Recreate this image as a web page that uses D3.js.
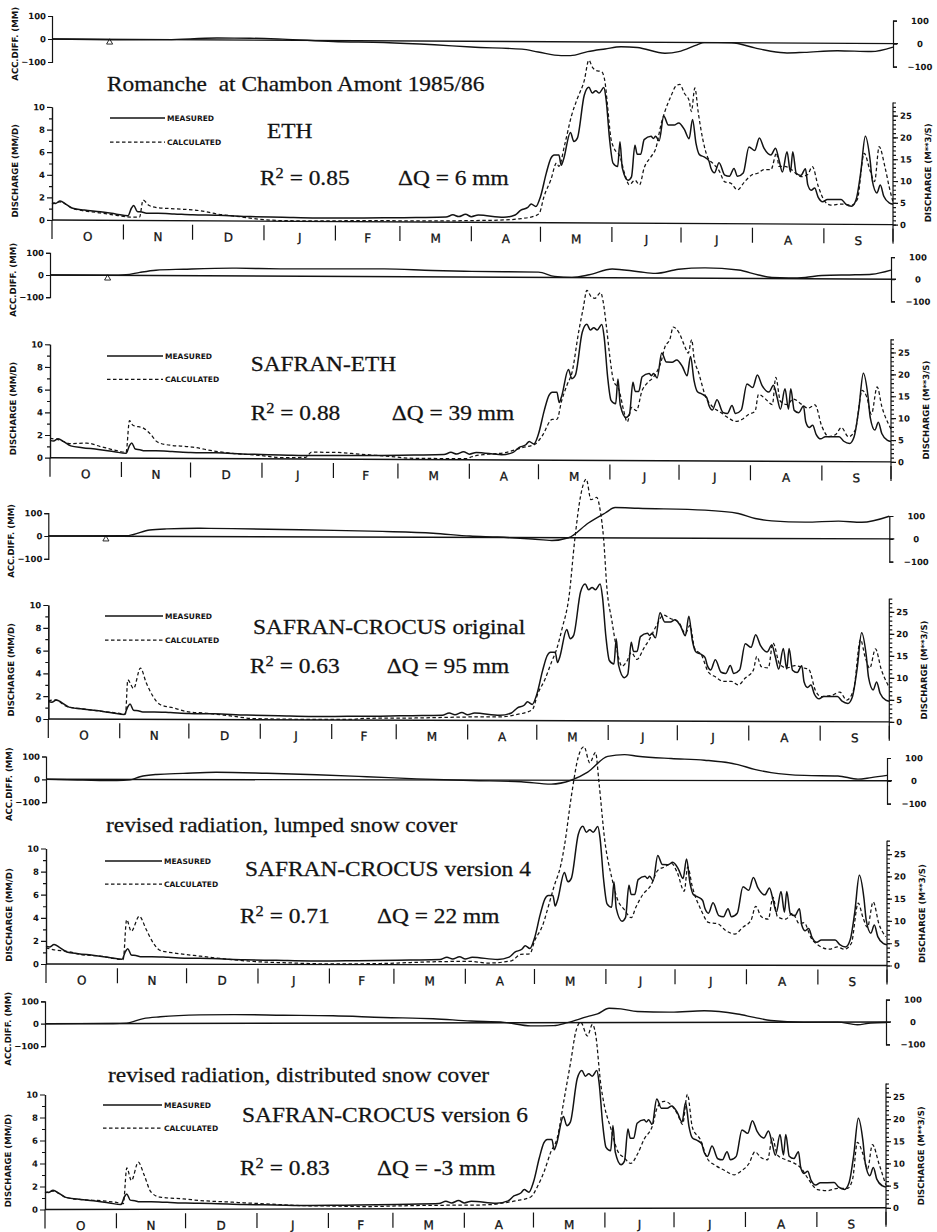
<!DOCTYPE html>
<html>
<head>
<meta charset="utf-8">
<script src="https://cdnjs.cloudflare.com/ajax/libs/d3/7.8.5/d3.min.js"></script>
<style>
  body { margin: 0; background: #fff; }
  svg { display: block; }
</style>
</head>
<body>
<div id="chart"></div>
<script>
// hydrological year Oct 1985 - Sep 1986, day 0 = 1 October
var months = ["O", "N", "D", "J", "F", "M", "A", "M", "J", "J", "A", "S"]
var monthStart = [0, 31, 61, 92, 123, 151, 182, 212, 243, 273, 304, 335, 365]

// measured discharge (mm/d), same in every panel : [day, value]
var measured = [[0,1.53],[1.5,1.47],[3.5,1.68],[6,1.42],[9,1.05],[14,0.9],[21,0.75],[28,0.55],[33,0.42],[34.5,1.1],[35.5,1.33],[37,0.8],[39,0.75],[41,0.65],[46,0.65],[53,0.6],[61,0.53],[72,0.5],[86,0.4],[100,0.35],[115,0.3],[130,0.32],[144,0.35],[158,0.4],[171,0.45],[174,0.65],[176.5,0.5],[179.5,0.7],[182,0.5],[185,0.65],[196,0.46],[201,0.67],[203.5,1.1],[206.5,1.35],[208,1.65],[210,1.42],[212,2.3],[214.5,4.37],[216.5,5.7],[218,6.0],[220,6.0],[221,5.1],[222,5.6],[225,8.0],[226.5,7.2],[228,7.5],[231,11.3],[233,12.0],[234.5,11.5],[236,11.7],[237.5,11.5],[239.5,12.0],[240.5,10.9],[242,7.4],[243.5,5.3],[245.5,5.0],[246.5,7.2],[247.5,4.9],[250,3.8],[251.5,4.1],[253,6.9],[254,6.1],[255.5,6.1],[257,7.4],[260,7.7],[261,7.5],[262,7.7],[263.5,7.3],[265.5,9.5],[267.5,8.7],[270,8.7],[272,8.9],[274.5,8.3],[276.5,7.5],[278,9.2],[279.5,7.1],[281,6.1],[283,5.9],[285,5.6],[286,4.9],[287.5,4.5],[289.5,5.4],[292,4.3],[294,4.2],[296,4.9],[297.5,4.2],[300,4.5],[302.5,6.8],[305,6.5],[307,7.6],[309,6.7],[312,6.1],[314,6.7],[315.5,5.7],[317,4.6],[319,6.4],[320.5,4.6],[321.5,6.4],[323,4.5],[325,4.3],[327,4.9],[328,3.5],[329.5,3.0],[331,3.2],[332.5,2.4],[334.5,2.0],[336.5,2.2],[339.5,2.2],[342.5,2.2],[344.5,1.8],[347,1.6],[349,2.2],[351,4.6],[353,7.8],[355,5.8],[356,3.9],[358,2.8],[359.5,3.5],[361,2.5],[363.5,1.9],[365,1.8]]

// calculated discharge (mm/d) per model run
var calcETH = [[0,1.4],[3.5,1.6],[9,1.03],[21,0.65],[28,0.45],[34,0.3],[38,0.3],[39.5,1.8],[42,1.35],[45.5,1.15],[53,1.05],[64,0.9],[72,0.6],[82,0.37],[90,0.17],[102,0.05],[115,0.05],[137,0.1],[165,0.1],[181.5,0.15],[196,0.22],[203.5,0.35],[209.5,0.59],[211.5,0.83],[213.5,2.3],[216.5,3.8],[219,5.3],[220,5.0],[222.5,6.9],[225.5,9.5],[228,11.0],[231,12.6],[233,14.4],[234.5,13.8],[236,13.5],[238.5,13.4],[240,12.5],[241,10.6],[242.5,7.6],[244,6.6],[246.5,5.9],[248.5,4.4],[250.5,3.4],[253,3.8],[255,3.4],[257,4.9],[260,5.9],[262,6.6],[264.5,8.9],[266,9.9],[268.5,11.2],[271,12.2],[272.5,12.3],[274.5,11.5],[276.5,10.9],[277.5,9.9],[279,12.0],[280.5,9.8],[282.5,7.4],[284.5,5.9],[287,5.3],[289.5,4.7],[292,3.7],[294.5,3.6],[297.5,3.0],[300.5,3.7],[303.5,4.3],[306.5,4.5],[309,4.8],[312,4.8],[314.5,6.3],[315.5,5.1],[318,5.1],[321,4.8],[325,4.2],[328,4.4],[330,5.1],[332.5,3.4],[335.5,2.0],[338,1.7],[342.5,1.8],[347,1.7],[349.5,2.2],[352.5,6.3],[355,4.8],[357,3.8],[359,6.9],[361.5,5.1],[363.5,3.2],[365,2.0]]

var calcSafranETH = [[0,1.7],[3.5,1.6],[9,1.25],[16,1.3],[22,1.0],[29,0.65],[33,0.5],[34.5,3.3],[36,2.9],[40.5,2.65],[43.5,2.15],[46.5,1.45],[50.5,1.2],[62,1.0],[72,0.63],[80,0.45],[91,0.3],[101,0.1],[111,0.15],[113.5,0.6],[123,0.6],[134.5,0.45],[145,0.3],[159,0.1],[181,0.1],[183,0.27],[190,0.5],[197.5,0.65],[205,1.1],[210.5,1.4],[213.5,2.1],[218,3.6],[220,3.6],[222,5.2],[224.5,6.7],[226.5,7.7],[229.5,11.4],[231.5,13.5],[233,15.0],[235,14.4],[236.5,14.3],[239,14.8],[240,14.1],[241.5,11.8],[243,9.1],[244.5,7.1],[247,6.2],[249,4.4],[250.5,3.4],[252.5,4.7],[254.5,4.4],[257,6.2],[259,6.8],[262,7.4],[265,8.6],[267,10.1],[269,10.7],[270.5,11.8],[273,11.3],[275.5,10.1],[277,9.5],[278.5,10.7],[279.5,9.1],[281.5,7.8],[284.5,5.7],[287.5,4.8],[291,4.3],[294.5,3.8],[297.5,3.5],[300.5,3.7],[303,4.1],[306,4.4],[307.5,5.9],[310.5,5.5],[313.5,5.0],[315,7.4],[317,5.3],[320,5.0],[322.5,5.5],[326.5,5.0],[329,4.7],[332,5.0],[335,3.1],[338,2.2],[341,2.4],[343.5,3.0],[346.5,2.2],[349.5,2.8],[352.5,6.3],[354.5,5.7],[356.5,4.2],[359,6.6],[361,4.9],[364,3.3],[365,2.9]]

var calcCrocusOrig = [[0,1.6],[3,1.67],[8,1.1],[15,0.9],[22.5,0.7],[29.5,0.55],[33.5,0.45],[34.5,3.45],[37,2.7],[40,4.5],[42.5,3.2],[45.5,2.0],[48.5,1.3],[54.5,1.0],[60,0.7],[69,0.55],[80,0.3],[89,0.1],[109,0.05],[131,0.05],[138,0.15],[160,0.2],[181.5,0.3],[197,0.33],[202.5,0.5],[210,0.95],[212.5,2.4],[215.5,3.6],[218.5,5.2],[220.5,6.2],[223,8.1],[226,10.9],[228.5,15.9],[231,19.7],[233.5,21.2],[235.5,19.4],[238,19.6],[239.5,18.5],[241,16.0],[242.5,11.5],[244.5,8.9],[246.5,6.5],[249,4.8],[251,5.2],[253,6.0],[255.5,5.4],[258.5,6.4],[261,7.2],[264,8.4],[267,9.3],[270,9.0],[273.5,8.7],[276.5,7.7],[278.5,8.4],[280.5,6.4],[283.5,5.8],[286.5,4.3],[289.5,3.9],[293,3.5],[296.5,3.5],[299.5,3.2],[302.5,3.8],[306,4.5],[307.5,5.7],[309.5,4.8],[312.5,4.7],[314.5,6.9],[317.5,5.0],[320.5,4.7],[324,4.9],[328,4.7],[330,4.6],[333,2.7],[335.5,2.2],[340,2.3],[343.5,2.6],[346.5,1.9],[349.5,2.8],[352.5,7.2],[354.5,5.7],[356.5,4.7],[359,6.4],[361.5,4.6],[364,3.4],[365,3.0]]

var calcCrocus4 = [[0,1.4],[3,1.25],[9,1.1],[16,0.8],[23.5,0.7],[30.5,0.45],[33.5,0.4],[35,3.85],[37,2.85],[40.5,4.15],[43.5,3.0],[46.5,1.85],[49.5,1.2],[56.5,0.95],[67,0.7],[78.5,0.45],[90,0.25],[103,0.15],[124.5,0.05],[146.5,0.1],[168,0.25],[184,0.3],[191.5,0.15],[202,0.35],[206,0.9],[210,0.95],[212,2.05],[215.5,3.4],[218.5,5.4],[220.5,6.8],[223.5,8.7],[225,10.3],[228,14.6],[231,18.0],[233.5,18.9],[236,17.5],[238.5,18.4],[240,15.8],[242.5,10.8],[245.5,7.6],[248,5.7],[251,4.8],[254,4.1],[256,5.0],[259,6.1],[262.5,6.9],[265.5,8.2],[268.5,8.5],[271.5,8.8],[274,8.0],[277,6.4],[278.5,8.5],[280.5,6.8],[284.5,4.7],[287.5,3.7],[291.5,3.6],[295,3.0],[299,2.7],[302.5,3.3],[306,3.9],[308,5.1],[310.5,4.2],[313.5,4.0],[315.5,5.9],[317.5,4.2],[321,4.0],[324,4.5],[327,3.6],[329,3.7],[332,2.4],[335.5,1.7],[340,1.4],[343.5,1.6],[346.5,1.4],[349.5,1.9],[352.5,5.4],[354.5,4.2],[356.5,3.3],[359,5.5],[361.5,3.6],[364.5,2.5]]

var calcCrocus6 = [[0,1.45],[3.5,1.6],[9,1.05],[16,0.85],[24.5,0.75],[31,0.6],[34,0.5],[35.5,3.6],[37.5,2.5],[40.5,4.1],[43,3.0],[46,1.5],[50,1.05],[60,0.9],[67.5,0.75],[81.5,0.6],[96,0.45],[110.5,0.3],[125,0.25],[139.5,0.2],[154,0.25],[168.5,0.3],[184.8,0.3],[193.5,0.35],[199.3,0.5],[205,0.7],[210.8,1.0],[213.7,1.9],[216.6,3.2],[219.5,4.9],[222.4,6.2],[225.3,9.5],[228.2,12.8],[230.4,15.4],[232.5,16.2],[235.4,15.0],[237.6,16.0],[239,15.1],[241.2,10.8],[242.7,9.0],[245.5,7.0],[248.5,5.0],[251.4,4.4],[254.2,3.9],[257.1,4.7],[260,6.0],[263.7,7.2],[265.8,8.8],[268.7,9.3],[271.6,9.0],[274.5,8.2],[276.7,7.3],[278.8,9.9],[281,7.0],[284.6,5.9],[287.5,4.3],[291.1,3.7],[294.8,3.3],[299.1,2.9],[302,3.2],[305.6,3.9],[308.1,4.9],[310.7,4.4],[313.6,4.2],[315.7,6.1],[317.9,4.6],[321.5,4.2],[325.1,3.9],[328,3.5],[331,2.6],[335.3,1.6],[339.6,1.5],[344,1.7],[348.3,1.7],[350.5,2.5],[352.6,5.7],[354.8,4.8],[357,3.4],[359.1,5.5],[362,3.8],[364.9,2.0]]

// accumulated difference calculated - measured (mm)
var accETH = [[0,0],[25,-2],[50,0],[72,8],[86,8],[100,5],[122,-4],[144,-7],[166,-16],[182,-25],[204,-33],[211,-45],[221,-60],[225,-60],[232.5,-42],[240,-30],[247,-20],[254,-23],[266,-47],[272,-40],[280,-10],[283,0],[295,0],[305,-22],[312,-36],[319,-43],[326.5,-40],[341,-32],[355.5,-35],[365,-15]]
var accSafranETH = [[0,0],[26,0],[33,3],[39,14],[46,24],[58,29],[80,35],[101,33],[123,34],[145,35],[166,29],[183,26],[212,24],[219,5],[226.5,1],[234,13],[244,40],[255.5,28],[262.7,21],[272.8,40],[284.4,47],[298.8,38],[307.5,16],[313.3,5],[320.5,3],[327.8,6],[335,15],[349.5,19],[356.7,22],[365,41]]
var accCrocusOrig = [[0,0],[34,2],[37,8],[44,28],[51.4,33],[66,36],[80,35],[102,32],[124,29],[145,25],[167,18],[183,6],[195,2],[210,-6],[218.5,-12],[225.8,0],[234.4,65],[241.7,109],[246,133],[256,130],[285,123],[299.5,109],[306.8,87],[314,77],[328.5,72],[343,77],[353,72],[365,99]]
var accCrocus4 = [[0,0],[16,-3],[30.7,-5],[36.5,-2],[40.8,12],[48,22],[59.6,27],[74,32],[95.8,28],[117.5,22],[139.2,14],[160.9,5],[184.5,-2],[206.2,-7],[219.2,-17],[227.9,0],[235.1,36],[243.8,105],[251.1,113],[256.8,106],[271.3,96],[285.8,89],[300.3,70],[307.5,49],[314.7,35],[329.2,23],[343.7,21],[352.4,7],[358.1,14],[365,24]]
var accCrocus6 = [[0,0],[29.7,0],[35.4,2],[42.7,22],[50,30],[67.3,38],[81.7,39],[103.4,36],[125,33],[146.8,25],[168.5,19],[184.8,8],[199.3,2],[210.8,-14],[220.8,-13],[226.8,0],[235.4,27],[239.8,39],[244.8,64],[249.9,61],[257.1,49],[271.6,46],[286.1,52],[300.5,37],[307.8,22],[315,8],[329.5,0],[344,0],[352.6,-12],[358.4,-4],[365,-2]]

var runNames = ["ETH", "SAFRAN-ETH", "SAFRAN-CROCUS original", "SAFRAN-CROCUS version 4", "SAFRAN-CROCUS version 6"]
var subtitles = ["", "", "", "revised radiation, lumped snow cover", "revised radiation, distributed snow cover"]
var r2Values = ["0.85", "0.88", "0.63", "0.71", "0.83"]
var dQValues = ["6", "39", "95", "22", "-3"]
var calcSeries = [calcETH, calcSafranETH, calcCrocusOrig, calcCrocus4, calcCrocus6]
var accSeries = [accETH, accSafranETH, accCrocusOrig, accCrocus4, accCrocus6]
var mm3Factor = 0.386   // 1 m3/s in mm/d for this catchment

// page layout of the five panels (the scan is slightly skewed, k = tilt)
var layout = [
  {left: 52,   acc0: 39,     accU: 23,    q0: 220,    qU: 11.3,  k: 0.0055,
   name: [267, 137.7], r2: [260, 185], dq: [398, 185], leg: [110, 165, 118, 142], tri: true},
  {left: 50,   acc0: 275,    accU: 22.2,  q0: 457.7,  qU: 11.34, k: 0.005,
   name: [250.7, 371], r2: [250.7, 420], dq: [391.7, 420], leg: [107, 163, 356, 379.3], tri: true},
  {left: 48.3, acc0: 536,    accU: 22.85, q0: 719,    qU: 11.4,  k: 0.0034,
   name: [253, 634], r2: [250, 672.7], dq: [386.7, 672.7], leg: [105, 163, 616, 640], tri: true},
  {left: 46,   acc0: 779.3,  accU: 22.8,  q0: 964,    qU: 11.55, k: 0.0018,
   sub: [106, 831.7], name: [245, 875.7], r2: [240, 923], dq: [377, 923], leg: [105, 162, 861, 884], tri: false},
  {left: 45,   acc0: 1023.7, accU: 22.35, q0: 1209.5, qU: 11.5,  k: -0.002,
   sub: [108, 1082], name: [242, 1122], r2: [240, 1175], dq: [377, 1175], leg: [103, 162, 1105, 1128], tri: false}
]

var ink = "#131313"
var serif = "'Liberation Serif', 'Times New Roman', serif"
var plot = "'DejaVu Sans', sans-serif"
var plotW = 841

var svg = d3.select("#chart").append("svg")
  .attr("width", 937)
  .attr("height", 1232)
  .style("background", "#fff")

var x = d3.scaleLinear().domain([0, 365]).range([0, plotW])

function bigText(pos, str) {
  return svg.append("text")
    .attr("transform", "translate(" + pos[0] + "," + pos[1] + ") scale(1.17,1)")
    .style("font-family", serif)
    .style("font-size", "20px")
    .style("white-space", "pre")
    .attr("fill", ink)
    .attr("stroke", ink)
    .attr("stroke-width", 0.25)
    .text(str)
}

function styleAxis(sel) {
  sel.selectAll("path, line").attr("stroke", ink).attr("stroke-width", 1.2)
  sel.selectAll("text")
    .attr("fill", ink)
    .style("font-family", plot)
    .style("font-size", "8.5px")
    .style("font-weight", "bold")
}

bigText([107, 90.7], "Romanche  at Chambon Amont 1985/86")

layout.forEach(function(p, i) {
  var skew = Math.atan(p.k) * 180 / Math.PI
  var g = svg.append("g")
    .attr("transform", "translate(" + p.left + ",0) skewY(" + skew + ")")

  var yA = d3.scaleLinear().domain([-100, 100]).range([p.acc0 + p.accU, p.acc0 - p.accU])
  var yQ = d3.scaleLinear().domain([0, 10]).range([p.q0, p.q0 - 10 * p.qU])
  var yM = d3.scaleLinear().domain([0, 10 / mm3Factor]).range([p.q0, p.q0 - 10 * p.qU])

  // ---- accumulated difference strip
  g.append("g").call(d3.axisLeft(yA).tickValues([-100, 0, 100]).tickSize(4).tickPadding(2))
    .call(styleAxis)
  var ra = g.append("g").attr("transform", "translate(" + plotW + ",0)")
    .call(d3.axisRight(yA).tickValues([-100, 0, 100]).tickSize(4))
    .call(styleAxis)
  ra.selectAll("text").attr("x", 27).attr("text-anchor", "middle")

  g.append("line")
    .attr("x1", 0).attr("x2", plotW + 5)
    .attr("y1", yA(0)).attr("y2", yA(0))
    .attr("stroke", ink).attr("stroke-width", 1.4)

  g.append("path")
    .datum(accSeries[i])
    .attr("fill", "none")
    .attr("stroke", ink)
    .attr("stroke-width", 1.4)
    .attr("d", d3.line()
      .x(function(d) { return x(d[0]) })
      .y(function(d) { return yA(d[1]) })
      .curve(d3.curveMonotoneX))

  if (p.tri) {
    g.append("path")
      .attr("d", d3.symbol().type(d3.symbolTriangle).size(16))
      .attr("transform", "translate(" + x(25) + "," + (p.acc0 + 3) + ")")
      .attr("fill", "none").attr("stroke", ink).attr("stroke-width", 0.9)
  }

  // ---- discharge panel
  g.append("g")
    .call(d3.axisLeft(yQ).tickValues(d3.range(1, 10, 2)).tickSize(3).tickFormat("").tickSizeOuter(0))
    .call(styleAxis)
  g.append("g")
    .call(d3.axisLeft(yQ).tickValues([0, 2, 4, 6, 8, 10]).tickSize(5).tickPadding(2).tickSizeOuter(0))
    .call(styleAxis)
  g.append("line")
    .attr("x1", 0).attr("x2", 0).attr("y1", p.q0).attr("y2", p.q0 + 19)
    .attr("stroke", ink).attr("stroke-width", 1.2)

  var rq = g.append("g").attr("transform", "translate(" + plotW + ",0)")
  rq.call(d3.axisRight(yM).tickValues(d3.range(0, 29)).tickSize(3).tickFormat("").tickSizeOuter(0))
    .call(styleAxis)
  rq.append("g")
    .call(d3.axisRight(yM).tickValues([0, 5, 10, 15, 20, 25]).tickSize(5).tickPadding(2).tickSizeOuter(0))
    .call(styleAxis)
  rq.selectAll(".domain").remove()
  rq.append("line")
    .attr("x1", 0).attr("x2", 0).attr("y1", yM(28)).attr("y2", p.q0 + 17)
    .attr("stroke", ink).attr("stroke-width", 1.2)

  // time axis with month bands
  g.append("line")
    .attr("x1", 0).attr("x2", plotW)
    .attr("y1", p.q0).attr("y2", p.q0)
    .attr("stroke", ink).attr("stroke-width", 1.4)
  g.selectAll(".msep")
    .data(monthStart.slice(1))
    .enter().append("line")
    .attr("x1", function(d) { return x(d) }).attr("x2", function(d) { return x(d) })
    .attr("y1", p.q0 + 4).attr("y2", p.q0 + 19)
    .attr("stroke", ink).attr("stroke-width", 1.2)
  g.selectAll(".mlab")
    .data(months)
    .enter().append("text")
    .attr("x", function(d, j) { return x((monthStart[j] + monthStart[j + 1]) / 2) })
    .attr("y", p.q0 + 20.5)
    .attr("text-anchor", "middle")
    .attr("fill", ink)
    .attr("stroke", ink)
    .attr("stroke-width", 0.3)
    .style("font-family", plot)
    .style("font-size", "12px")
    .text(function(d) { return d })

  var qLine = d3.line()
    .x(function(d) { return x(d[0]) })
    .y(function(d) { return yQ(d[1]) })
    .curve(d3.curveMonotoneX)

  g.append("path")
    .datum(calcSeries[i])
    .attr("fill", "none")
    .attr("stroke", ink)
    .attr("stroke-width", 1.25)
    .attr("stroke-dasharray", "3.5,2.5")
    .attr("d", qLine)
  g.append("path")
    .datum(measured)
    .attr("fill", "none")
    .attr("stroke", ink)
    .attr("stroke-width", 1.5)
    .attr("d", qLine)

  // axis titles
  g.append("text")
    .attr("transform", "translate(-34," + (p.acc0 + 5) + ") rotate(-90)")
    .attr("text-anchor", "middle")
    .attr("fill", ink)
    .style("font-family", plot).style("font-size", "8.5px").style("font-weight", "bold")
    .text("ACC.DIFF. (MM)")
  g.append("text")
    .attr("transform", "translate(-34," + (p.q0 - 49) + ") rotate(-90)")
    .attr("text-anchor", "middle")
    .attr("fill", ink)
    .style("font-family", plot).style("font-size", "8.5px").style("font-weight", "bold")
    .text("DISCHARGE (MM/D)")
  g.append("text")
    .attr("transform", "translate(" + (plotW + 38) + "," + (p.q0 - 52) + ") rotate(-90)")
    .attr("text-anchor", "middle")
    .attr("fill", ink)
    .style("font-family", plot).style("font-size", "8.5px").style("font-weight", "bold")
    .text("DISCHARGE (M**3/S)")

  // ---- legend
  var lg = p.leg
  svg.append("line")
    .attr("x1", lg[0]).attr("x2", lg[1]).attr("y1", lg[2]).attr("y2", lg[2])
    .attr("stroke", ink).attr("stroke-width", 1.5)
  svg.append("line")
    .attr("x1", lg[0]).attr("x2", lg[1]).attr("y1", lg[3]).attr("y2", lg[3])
    .attr("stroke", ink).attr("stroke-width", 1.25).attr("stroke-dasharray", "3.5,2.5")
  svg.append("text").attr("x", lg[1] + 2).attr("y", lg[2] + 2.7)
    .attr("fill", ink)
    .style("font-family", plot).style("font-size", "7.5px").style("font-weight", "bold")
    .text("MEASURED")
  svg.append("text").attr("x", lg[1] + 2).attr("y", lg[3] + 2.7)
    .attr("fill", ink)
    .style("font-family", plot).style("font-size", "7.5px").style("font-weight", "bold")
    .text("CALCULATED")

  // ---- run labels
  if (p.sub) bigText(p.sub, subtitles[i])
  bigText(p.name, runNames[i])
  var r2 = bigText(p.r2, "")
  r2.append("tspan").text("R")
  r2.append("tspan").attr("dy", -7).style("font-size", "14px").text("2")
  r2.append("tspan").attr("dy", 7).text(" = " + r2Values[i])
  bigText(p.dq, "\u0394Q = " + dQValues[i] + " mm")
})
</script>
</body>
</html>
